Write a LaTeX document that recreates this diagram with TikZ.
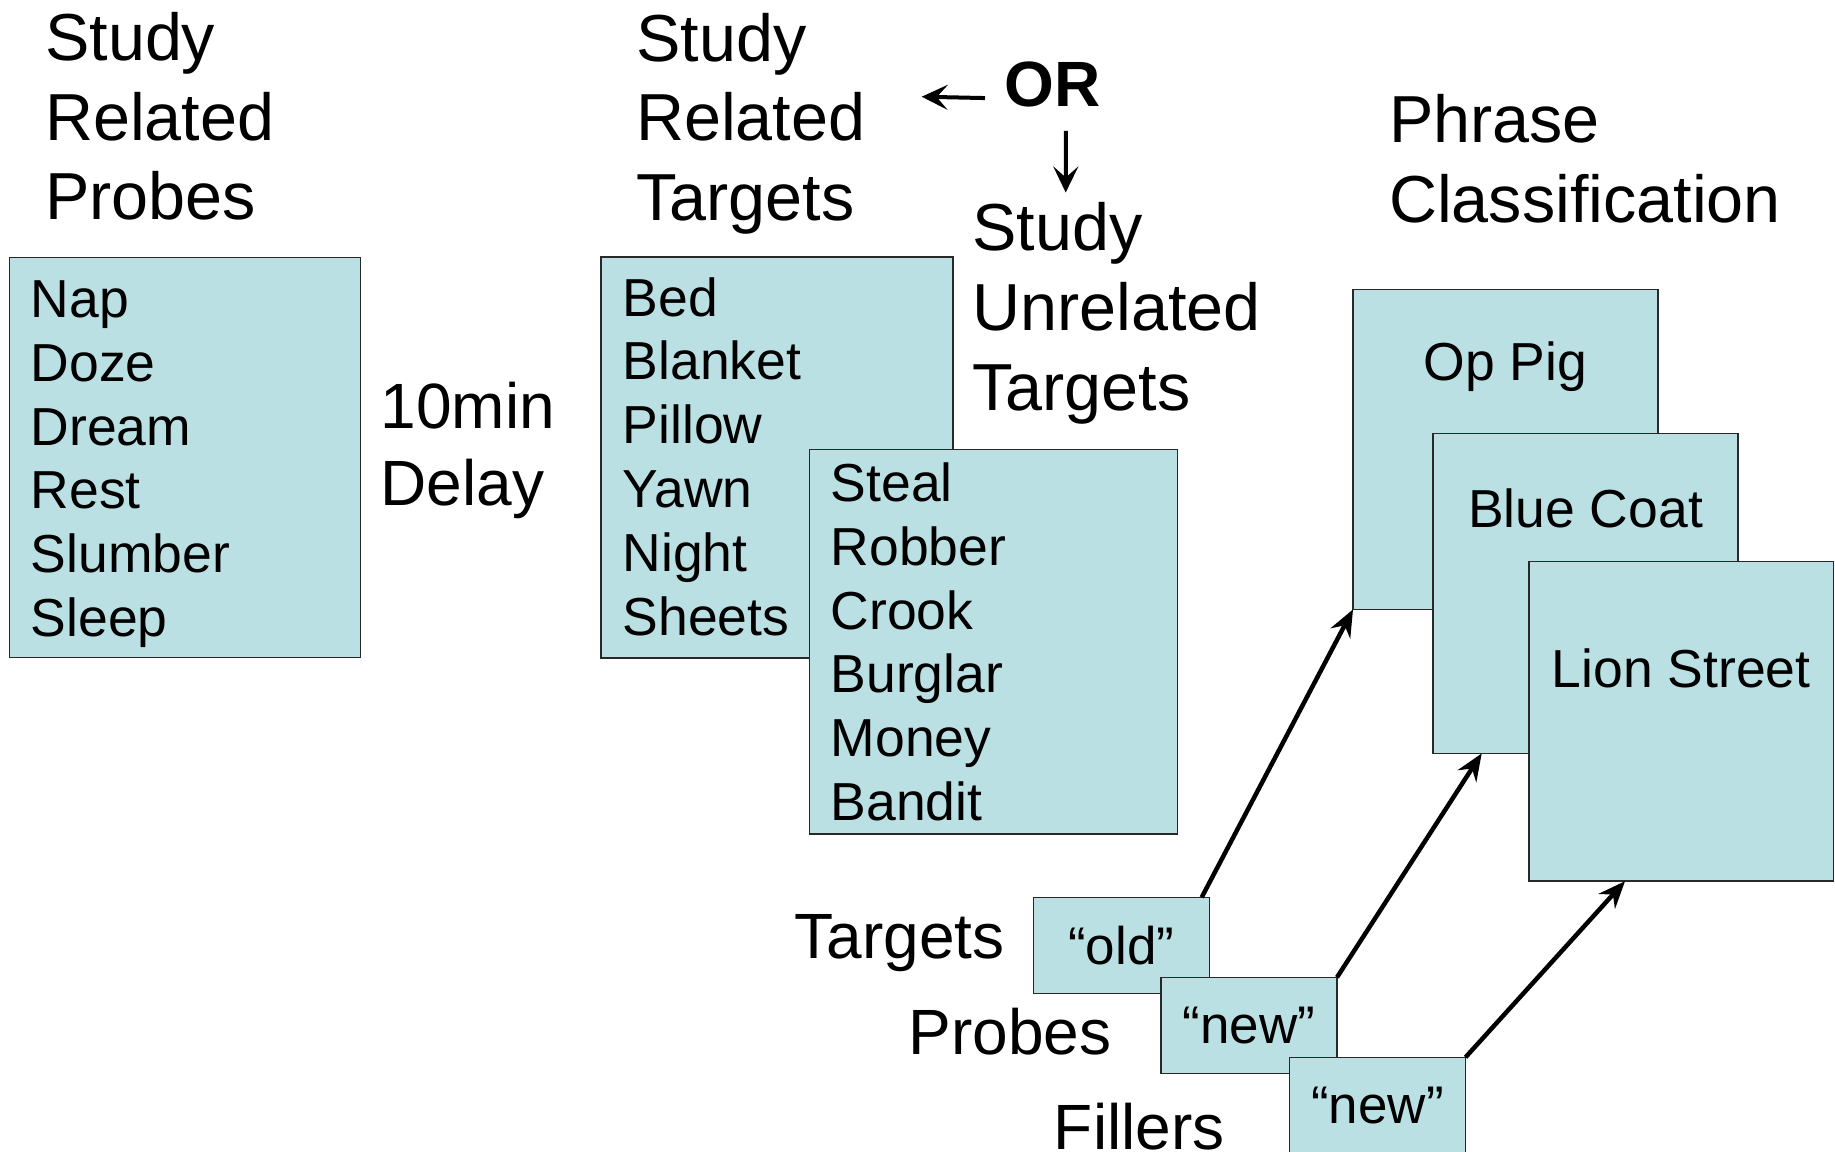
\documentclass[tikz,border=0pt]{standalone}
\usepackage{fontspec}
\setmainfont{Liberation Sans}
\usetikzlibrary{arrows.meta}
\definecolor{boxfill}{RGB}{187,224,227}
\definecolor{boxline}{RGB}{40,40,40}
\begin{document}
\begin{tikzpicture}[x=1pt,y=-1pt,
  box/.style={draw=boxline, line width=1.6pt, fill=boxfill, rectangle, anchor=north west, inner sep=0pt, outer sep=0pt},
  hd/.style={font=\fontsize{66.5}{80}\selectfont, anchor=base west, inner sep=0pt},
  lst/.style={font=\fontsize{53.5}{64}\selectfont, anchor=base west, inner sep=0pt},
  lbl/.style={font=\fontsize{64}{76}\selectfont, anchor=base west, inner sep=0pt},
  ctr/.style={font=\fontsize{53.5}{64}\selectfont, anchor=base, inner sep=0pt},
  small/.style={box, minimum width=176pt, minimum height=96pt, font=\fontsize{53}{63}\selectfont},
  conn/.style={line width=4.5pt, -{Stealth[length=27pt,width=22pt,inset=9pt]}},
  glyph/.style={line width=4pt, -{Stealth[length=26pt,width=25pt,inset=11pt]}}
]
\useasboundingbox (0,0) rectangle (1835,1151);

% ---- left column ----
\node[hd] (h1a) at (45,60) {Study};
\node[hd] (h1b) at (45,140) {Related};
\node[hd] (h1c) at (45,219.5) {Probes};
\node[box, minimum width=351pt, minimum height=400pt] (pbox) at (9.4,257.5) {};
\foreach \w [count=\i] in {Nap,Doze,Dream,Rest,Slumber,Sleep}
  \node[lst] (pl\i) at (30.5,{317.5+63.8*(\i-1)}) {\w};

\node[lbl] (d1) at (380.5,428.3) {10min};
\node[lbl] (d2) at (380.5,505) {Delay};

% ---- middle column ----
\node[hd] (h2a) at (636,61) {Study};
\node[hd] (h2b) at (636,140.5) {Related};
\node[hd] (h2c) at (636,220) {Targets};
\node[box, minimum width=352pt, minimum height=400.5pt] (tbox1) at (601,257.2) {};
\foreach \w [count=\i] in {Bed,Blanket,Pillow,Yawn,Night,Sheets}
  \node[lst] (tl\i) at (622.5,{316+63.9*(\i-1)}) {\w};
\node[box, minimum width=368pt, minimum height=384.5pt] (tbox2) at (809.5,449.4) {};
\foreach \w [count=\i] in {Steal,Robber,Crook,Burglar,Money,Bandit}
  \node[lst] (ul\i) at (830.5,{501.7+63.7*(\i-1)}) {\w};

\node[lbl, font=\fontsize{64}{76}\bfseries\selectfont] (or) at (1004,106) {OR};
\node[hd] (h3a) at (972,250) {Study};
\node[hd] (h3b) at (972,330) {Unrelated};
\node[hd] (h3c) at (972,410) {Targets};
\coordinate (orL) at (921.7,96.7);
\coordinate (dnE) at (1065.7,192.5);
\draw[glyph] ([shift={(-19,14.1)}]or.west) -- (orL);
\draw[glyph] ([shift={(13.7,24)}]or.south) -- (dnE);

% ---- right column ----
\node[hd] (h4a) at (1389,142.7) {Phrase};
\node[hd] (h4b) at (1389,222.7) {Classification};
\node[box, minimum width=305pt, minimum height=320pt] (c1) at (1353,289.4) {};
\node[ctr] (c1t) at (1505.3,380.8) {Op Pig};
\node[box, minimum width=305pt, minimum height=320pt] (c2) at (1433,433.4) {};
\node[ctr] (c2t) at (1585.5,527.8) {Blue Coat};
\node[box, minimum width=304.3pt, minimum height=319.6pt] (c3) at (1529,561.6) {};
\node[ctr] (c3t) at (1681.2,687.3) {Lion Street};

% ---- bottom labels ----
\node[lbl] (lt) at (794.5,958.5) {Targets};
\node[lbl] (lp) at (908.5,1054.3) {Probes};
\node[lbl] (lf) at (1053.7,1149.3) {Fillers};
\node[small] (old) at (1033.3,897.3) {“old”};
\node[small] (pnew) at (1161,977.3) {“new”};
\node[small] (fnew) at (1289.5,1057.3) {“new”};

\draw[conn] ([xshift=-7.6pt]old.north east) -- (c1.south west);
\draw[conn] (pnew.north east) -- ([xshift=48.7pt]c2.south west);
\draw[conn] (fnew.north east) -- ([xshift=96pt]c3.south west);
\end{tikzpicture}
\end{document}
